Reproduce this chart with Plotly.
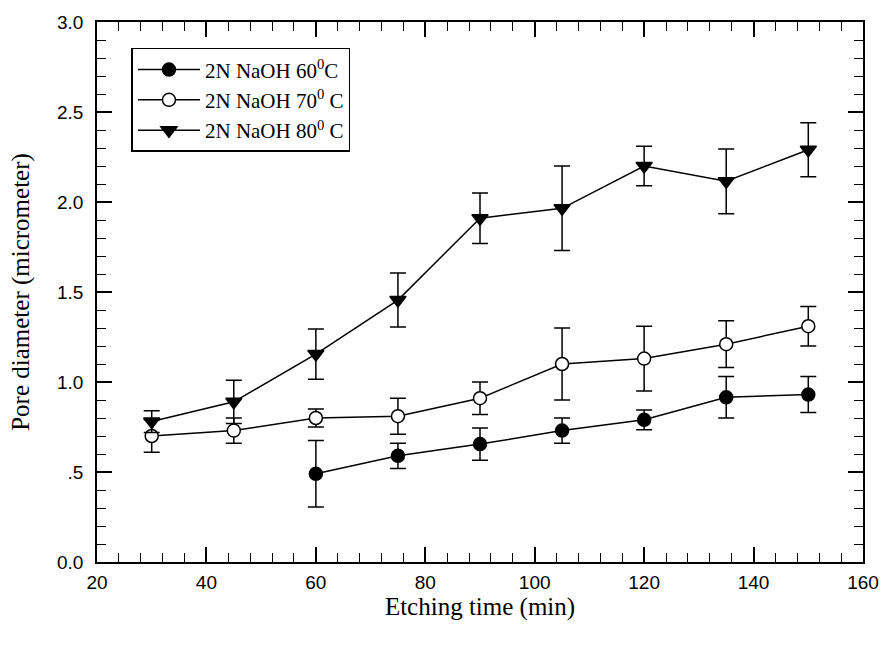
import plotly.graph_objects as go

time_all = [30, 45, 60, 75, 90, 105, 120, 135, 150]
time_60 = [60, 75, 90, 105, 120, 135, 150]

d60 = [0.49, 0.59, 0.655, 0.73, 0.79, 0.915, 0.93]
e60 = [0.185, 0.07, 0.09, 0.07, 0.055, 0.115, 0.10]

d70 = [0.70, 0.73, 0.80, 0.81, 0.91, 1.10, 1.13, 1.21, 1.31]
e70 = [0.09, 0.07, 0.05, 0.10, 0.09, 0.20, 0.18, 0.13, 0.11]

d80 = [0.78, 0.89, 1.155, 1.455, 1.91, 1.965, 2.20, 2.115, 2.29]
e80 = [0.06, 0.12, 0.14, 0.15, 0.14, 0.235, 0.11, 0.18, 0.15]

names = ["2N NaOH 60<sup>0</sup>C", "2N NaOH 70<sup>0</sup> C", "2N NaOH 80<sup>0</sup> C"]

y_tickvals = [0.0, 0.5, 1.0, 1.5, 2.0, 2.5, 3.0]
y_ticktext = ["0.0", ".5", "1.0", "1.5", "2.0", "2.5", "3.0"]
x_tickvals = [20, 40, 60, 80, 100, 120, 140, 160]

fig = go.Figure()

def add(x, y, e, name, symbol, fill, size):
    fig.add_trace(go.Scatter(
        x=x, y=y, name=name, mode="lines+markers",
        line=dict(color="black", width=1.5),
        marker=dict(symbol=symbol, size=size, color=fill, line=dict(color="black", width=1.5)),
        error_y=dict(type="data", array=e, visible=True, color="black", thickness=1.5, width=8),
    ))

add(time_60, d60, e60, names[0], "circle", "black", 13)
add(time_all, d70, e70, names[1], "circle", "white", 13)
add(time_all, d80, e80, names[2], "triangle-down", "black", 14)

axis_common = dict(
    showline=True, linecolor="black", linewidth=1.5, mirror="allticks",
    ticks="inside", ticklen=15, tickwidth=1.5, tickcolor="black",
    showgrid=False, zeroline=False,
    tickfont=dict(family="Liberation Sans, Arial", size=19, color="black"),
    title_font=dict(family="Liberation Serif, Times New Roman", size=25, color="black"),
)

fig.update_xaxes(
    range=[20, 160], tickvals=x_tickvals,
    minor=dict(ticks="inside", dtick=4, tick0=20, ticklen=9, tickwidth=1.2, tickcolor="black"),
    title_text="Etching time (min)", title_standoff=4,
    ticklabelstandoff=2,
    **axis_common,
)
fig.update_yaxes(
    range=[0, 3.0], tickvals=y_tickvals, ticktext=y_ticktext,
    minor=dict(ticks="inside", dtick=0.1, tick0=0, ticklen=9, tickwidth=1.2, tickcolor="black"),
    title_text="Pore diameter (micrometer)", title_standoff=20,
    ticklabelstandoff=8,
    **axis_common,
)

fig.update_layout(
    width=891, height=646,
    margin=dict(l=97, r=23, t=19, b=84),
    plot_bgcolor="white", paper_bgcolor="white",
    showlegend=True,
    legend=dict(
        x=0.045, y=0.952, xanchor="left", yanchor="top",
        bordercolor="black", borderwidth=1.5, bgcolor="white",
        font=dict(family="Liberation Serif, Times New Roman", size=21, color="black"),
        itemwidth=62, tracegroupgap=0,
    ),
)

fig.write_html("out.html")
